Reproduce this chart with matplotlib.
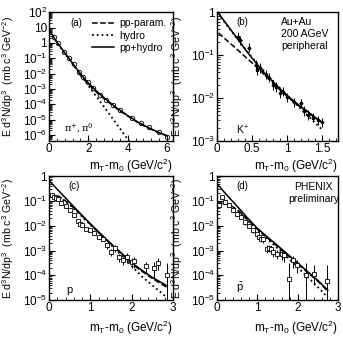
import math
import matplotlib
matplotlib.use("Agg")
import matplotlib.pyplot as plt
from matplotlib.ticker import FixedLocator, FuncFormatter, AutoMinorLocator, LogLocator, NullFormatter

plt.rcParams['font.family'] = ['Liberation Sans', 'DejaVu Sans']
plt.rcParams['mathtext.fontset'] = 'custom'
plt.rcParams['mathtext.rm'] = 'Liberation Sans'
plt.rcParams['mathtext.it'] = 'Liberation Sans:italic'
plt.rcParams['mathtext.default'] = 'regular'

# ---- (a) pi+, pi0 ----
a_x = [0.05, 0.2, 0.4, 0.6, 0.8, 1.0, 1.25, 1.5, 1.75, 2.0, 2.5, 3.0, 3.5, 4.0, 4.5, 5.0, 5.5, 6.0]
a_total = [5.6, 2.8, 1.1, 0.5, 0.22, 0.105, 0.038, 0.014, 5.6e-3, 2.4e-3, 5.6e-4, 1.6e-4,
           5.0e-5, 1.8e-5, 7.0e-6, 3.2e-6, 1.6e-6, 8.9e-7]
a_pp_x = [1.5, 1.75, 2.0, 2.5, 3.0, 3.5, 4.0, 4.5, 5.0, 5.5, 6.0]
a_pp = [0.011, 4.5e-3, 2.0e-3, 4.8e-4, 1.4e-4, 4.5e-5, 1.7e-5, 6.6e-6, 3.0e-6, 1.5e-6, 8.5e-7]
a_hydro_x = [0.05, 0.2, 0.4, 0.6, 0.8, 1.0, 1.25, 1.5, 1.75, 2.0, 2.5, 3.0, 3.5, 4.0, 4.1]
a_hydro = [5.4, 2.7, 1.05, 0.47, 0.2, 0.095, 0.034, 0.012, 4.6e-3, 1.6e-3, 2.2e-4, 3.0e-5,
           4.0e-6, 5.2e-7, 3.5e-7]
a_data_x = [0.25, 0.45, 0.75, 1.0, 1.25, 1.5, 1.75, 2.0, 2.25, 2.6, 2.9, 3.25, 3.6, 4.2, 4.7, 5.1, 5.6, 6.0]
a_data = [2.3, 0.95, 0.27, 0.11, 0.04, 0.013, 6.0e-3, 2.6e-3, 1.2e-3, 4.2e-4, 2.0e-4, 9.0e-5,
          4.3e-5, 1.3e-5, 5.5e-6, 3.3e-6, 1.5e-6, 7.0e-7]

# ---- (b) K+ ----
b_x = [0.02, 0.1, 0.2, 0.3, 0.4, 0.5, 0.6, 0.7, 0.8, 0.9, 1.0, 1.1, 1.2, 1.3, 1.4, 1.5]
b_total = [0.95, 0.63, 0.38, 0.23, 0.138, 0.085, 0.054, 0.035, 0.024, 0.0166, 0.0117,
           8.5e-3, 6.3e-3, 4.8e-3, 3.6e-3, 2.75e-3]
b_pp = [0.33, 0.25, 0.18, 0.13, 0.092, 0.066, 0.047, 0.032, 0.022, 0.0155, 0.011,
        8.0e-3, 6.0e-3, 4.6e-3, 3.5e-3, 2.7e-3]
b_hydro_x = [0.05, 0.1, 0.2, 0.3, 0.4, 0.5, 0.6, 0.7, 0.8, 0.9, 1.0, 1.1, 1.2, 1.3, 1.4, 1.5]
b_hydro = [0.75, 0.6, 0.37, 0.23, 0.14, 0.088, 0.058, 0.038, 0.025, 0.017, 0.0115,
           8.0e-3, 5.6e-3, 3.9e-3, 2.7e-3, 1.85e-3]
b_data_x = [0.3, 0.33, 0.45, 0.55, 0.57, 0.62, 0.7, 0.75, 0.8, 0.85, 0.9, 0.95, 1.0,
            1.1, 1.2, 1.25, 1.3, 1.38, 1.45, 1.5]
b_data = [0.27, 0.22, 0.15, 0.06, 0.045, 0.05, 0.035, 0.03, 0.02, 0.018, 0.013, 0.014,
          0.0105, 8.0e-3, 7.5e-3, 5.0e-3, 4.0e-3, 3.5e-3, 3.0e-3, 2.7e-3]

# ---- (c) protons ----
c_x = [0.0, 0.25, 0.5, 0.75, 1.0, 1.25, 1.5, 1.75, 2.0, 2.25, 2.5, 2.75, 2.85]
c_total = [0.66, 0.24, 0.087, 0.032, 0.012, 4.7e-3, 1.9e-3, 7.9e-4, 3.2e-4, 1.6e-4,
           8.3e-5, 4.8e-5, 3.8e-5]
c_pp = [0.2, 0.15, 0.075, 0.03, 0.0115, 4.5e-3, 1.8e-3, 7.5e-4, 3.0e-4, 1.45e-4,
        7.5e-5, 4.2e-5, 3.3e-5]
c_hydro = [0.15, 0.14, 0.07, 0.028, 0.011, 4.3e-3, 1.7e-3, 6.5e-4, 2.4e-4, 9.0e-5,
           4.0e-5, 1.8e-5, 1.3e-5]
c_data_x = [0.07, 0.12, 0.17, 0.22, 0.3, 0.4, 0.5, 0.6, 0.7, 0.75, 0.8, 0.9, 1.0, 1.1,
            1.2, 1.3, 1.4, 1.5, 1.6, 1.7, 1.8, 1.9, 2.0, 2.05, 2.35, 2.55, 2.65, 2.85]
c_data = [0.18, 0.15, 0.13, 0.12, 0.085, 0.06, 0.045, 0.028, 0.015, 0.012, 0.011,
          7.5e-3, 6.5e-3, 5.0e-3, 3.5e-3, 2.8e-3, 1.6e-3, 9.0e-4, 1.3e-3, 5.5e-4,
          4.2e-4, 5.5e-4, 3.5e-4, 3.8e-4, 2.3e-4, 1.9e-4, 3.2e-4, 1.0e-4]
c_err_lo = [0.02, 0.02, 0.02, 0.015, 0.01, 7e-3, 5e-3, 3e-3, 2e-3, 1.5e-3, 1.2e-3,
            9e-4, 8e-4, 6e-4, 5e-4, 4e-4, 4e-4, 3e-4, 4e-4, 2e-4, 1.5e-4, 2.5e-4,
            1.5e-4, 1.8e-4, 1.0e-4, 1.2e-4, 1.5e-4, 9.5e-5]
c_err_hi = [0.02, 0.02, 0.02, 0.015, 0.01, 7e-3, 5e-3, 3e-3, 2e-3, 1.5e-3, 1.2e-3,
            9e-4, 8e-4, 6e-4, 5e-4, 4e-4, 4e-4, 3e-4, 4e-4, 2e-4, 1.5e-4, 2.5e-4,
            1.5e-4, 1.8e-4, 1.3e-4, 1.5e-4, 2.0e-4, 2.2e-4]

# ---- (d) antiprotons ----
d_x = [0.0, 0.25, 0.5, 0.75, 1.0, 1.25, 1.5, 1.75, 2.0, 2.25, 2.5, 2.75]
d_total = [0.48, 0.166, 0.06, 0.021, 7.9e-3, 3.5e-3, 1.6e-3, 7.1e-4, 3.2e-4, 1.4e-4,
           6.3e-5, 2.5e-5]
d_pp_x = [0.0, 0.1, 0.25, 0.5, 0.75, 1.0, 1.25, 1.5, 1.75, 2.0, 2.25, 2.5, 2.75]
d_pp = [0.06, 0.085, 0.08, 0.045, 0.018, 7.2e-3, 3.2e-3, 1.45e-3, 6.5e-4, 2.9e-4,
        1.3e-4, 5.8e-5, 2.3e-5]
d_hydro = [0.06, 0.08, 0.075, 0.042, 0.017, 6.8e-3, 2.9e-3, 1.25e-3, 5.2e-4, 2.1e-4,
           8.5e-5, 3.4e-5, 1.3e-5]
d_data_x = [0.05, 0.12, 0.2, 0.3, 0.4, 0.5, 0.6, 0.7, 0.8, 0.9, 1.0, 1.05, 1.1, 1.15,
            1.25, 1.3, 1.35, 1.4, 1.5, 1.6, 1.65, 1.78, 1.88, 1.98, 2.2, 2.4, 2.74]
d_data = [0.07, 0.14, 0.09, 0.07, 0.045, 0.03, 0.022, 0.014, 0.01, 6.5e-3, 4.5e-3,
          3.5e-3, 3.0e-3, 2.8e-3, 1.2e-3, 1.3e-3, 1.1e-3, 8.5e-4, 7.5e-4, 7.0e-4,
          6.5e-4, 7.0e-5, 4.0e-4, 2.7e-4, 1.0e-4, 1.1e-4, 6.0e-5]
d_err_lo = [0.01, 0.02, 0.015, 0.01, 7e-3, 5e-3, 4e-3, 3e-3, 2e-3, 1.5e-3, 1e-3,
            8e-4, 7e-4, 7e-4, 4e-4, 4e-4, 4e-4, 3e-4, 3e-4, 3e-4, 3e-4, 6.0e-5,
            2.0e-4, 1.5e-4, 9.0e-5, 7.0e-5, 5.0e-5]
d_err_hi = [0.01, 0.02, 0.015, 0.01, 7e-3, 5e-3, 4e-3, 3e-3, 2e-3, 1.5e-3, 1e-3,
            8e-4, 7e-4, 7e-4, 4e-4, 4e-4, 4e-4, 3e-4, 3e-4, 3e-4, 3e-4, 2.5e-4,
            2.0e-4, 1.5e-4, 2.0e-4, 1.5e-4, 2.0e-4]

FS = 8.5   # tick / x-axis text
FS_Y = 7.6
FS_SMALL = 7.5


def log_label(v, pos):
    if v == 1:
        return "1"
    if v == 10:
        return "10"
    return "$10^{%d}$" % int(round(math.log10(v)))


def style(ax, xlim, ylim, xticks, xlab_y):
    ax.set_yscale('log')
    ax.set_xlim(*xlim)
    ax.set_ylim(*ylim)
    ax.xaxis.set_major_locator(FixedLocator(xticks))
    ax.xaxis.set_major_formatter(FuncFormatter(lambda v, p: '%g' % v))
    ax.xaxis.set_minor_locator(AutoMinorLocator(5))
    ax.yaxis.set_major_locator(LogLocator(base=10, numticks=20))
    ax.yaxis.set_minor_locator(LogLocator(base=10, subs=range(2, 10), numticks=20))
    ax.yaxis.set_minor_formatter(NullFormatter())
    ax.yaxis.set_major_formatter(FuncFormatter(log_label))
    ax.tick_params(which='both', direction='in', labelsize=FS, pad=1.5)
    ax.tick_params(which='major', length=4.5, width=0.8)
    ax.tick_params(which='minor', length=2.5, width=0.6)
    for s in ax.spines.values():
        s.set_linewidth(1.0)
    ax.set_ylabel("E d$^{3}$N/dp$^{3}$  (mb c$^{3}$ GeV$^{-2}$)", fontsize=FS_Y)
    ax.yaxis.set_label_coords(-0.265, 0.5)
    ax.set_xlabel("m$_{T}$-m$_{0}$ (GeV/c$^{2}$)", fontsize=FS, ha='right')
    ax.xaxis.set_label_coords(1.0, xlab_y)


fig = plt.figure(figsize=(3.43, 3.38), dpi=100)
ax_a = fig.add_axes([0.143, 0.583, 0.361, 0.381])
ax_b = fig.add_axes([0.633, 0.583, 0.352, 0.381])
ax_c = fig.add_axes([0.143, 0.112, 0.361, 0.367])
ax_d = fig.add_axes([0.633, 0.112, 0.352, 0.367])

lw = 1.1
# (a)
ax_a.plot(a_pp_x, a_pp, 'k--', lw=lw, label='pp-param.')
ax_a.plot(a_hydro_x, a_hydro, 'k:', lw=1.3, label='hydro')
ax_a.plot(a_x, a_total, 'k-', lw=lw, label='pp+hydro')
ax_a.plot(a_data_x, a_data, 'o', ms=3.2, mfc='none', mec='black', mew=0.6)
style(ax_a, (0, 6.3), (4e-7, 100), [0, 2, 4, 6], -0.12)
ax_a.legend(loc='upper left', bbox_to_anchor=(0.3, 1.0), frameon=False, fontsize=FS_SMALL,
            handlelength=2.1, labelspacing=0.2, handletextpad=0.5, borderaxespad=0.2)
ax_a.text(0.17, 0.915, "(a)", transform=ax_a.transAxes, fontsize=7, va='center')
ax_a.text(0.12, 0.1, r"$\pi^{+}, \pi^{0}$", transform=ax_a.transAxes, fontsize=7,
          va='center', family=['DejaVu Serif'])

# (b)
ax_b.plot(b_x, b_pp, 'k--', lw=lw)
ax_b.plot(b_hydro_x, b_hydro, 'k:', lw=1.3)
ax_b.plot(b_x, b_total, 'k-', lw=lw)
ax_b.errorbar(b_data_x, b_data, yerr=[[v * 0.22 for v in b_data], [v * 0.28 for v in b_data]],
              xerr=0.02, fmt='o', ms=1.6, color='black', elinewidth=0.7, capsize=0)
style(ax_b, (0, 1.73), (1e-3, 1), [0, 0.5, 1, 1.5], -0.12)
ax_b.text(0.16, 0.925, "(b)", transform=ax_b.transAxes, fontsize=7, va='center')
ax_b.text(0.53, 0.96, "Au+Au\n200 AGeV\nperipheral", transform=ax_b.transAxes,
          fontsize=FS_SMALL, va='top', linespacing=1.2)
ax_b.text(0.16, 0.085, "K$^{+}$", transform=ax_b.transAxes, fontsize=FS_SMALL, va='center')

# (c)
ax_c.plot(c_x, c_pp, 'k--', lw=lw)
ax_c.plot(c_x, c_hydro, 'k:', lw=1.3)
ax_c.plot(c_x, c_total, 'k-', lw=lw)
ax_c.errorbar(c_data_x, c_data, yerr=[c_err_lo, c_err_hi], fmt='s', ms=3.0, mfc='white',
              mec='black', mew=0.6, ecolor='black', elinewidth=0.7, capsize=0)
style(ax_c, (0, 3), (1e-5, 1), [0, 1, 2, 3], -0.15)
ax_c.text(0.155, 0.92, "(c)", transform=ax_c.transAxes, fontsize=7, va='center')
ax_c.text(0.14, 0.08, "p", transform=ax_c.transAxes, fontsize=8, va='center')

# (d)
ax_d.plot(d_pp_x, d_pp, 'k--', lw=lw)
ax_d.plot(d_pp_x, d_hydro, 'k:', lw=1.3)
ax_d.plot(d_x, d_total, 'k-', lw=lw)
ax_d.errorbar(d_data_x, d_data, yerr=[d_err_lo, d_err_hi], fmt='s', ms=3.0, mfc='white',
              mec='black', mew=0.6, ecolor='black', elinewidth=0.7, capsize=0)
style(ax_d, (0, 3), (1e-5, 1), [0, 1, 2, 3], -0.15)
ax_d.text(0.16, 0.92, "(d)", transform=ax_d.transAxes, fontsize=7, va='center')
ax_d.text(0.80, 0.95, "PHENIX\npreliminary", transform=ax_d.transAxes, fontsize=FS_SMALL,
          va='top', ha='center', linespacing=1.2)
ax_d.text(0.16, 0.1, r"$\bar{p}$", transform=ax_d.transAxes, fontsize=8, va='center')

fig.savefig("out.png", dpi=100)
